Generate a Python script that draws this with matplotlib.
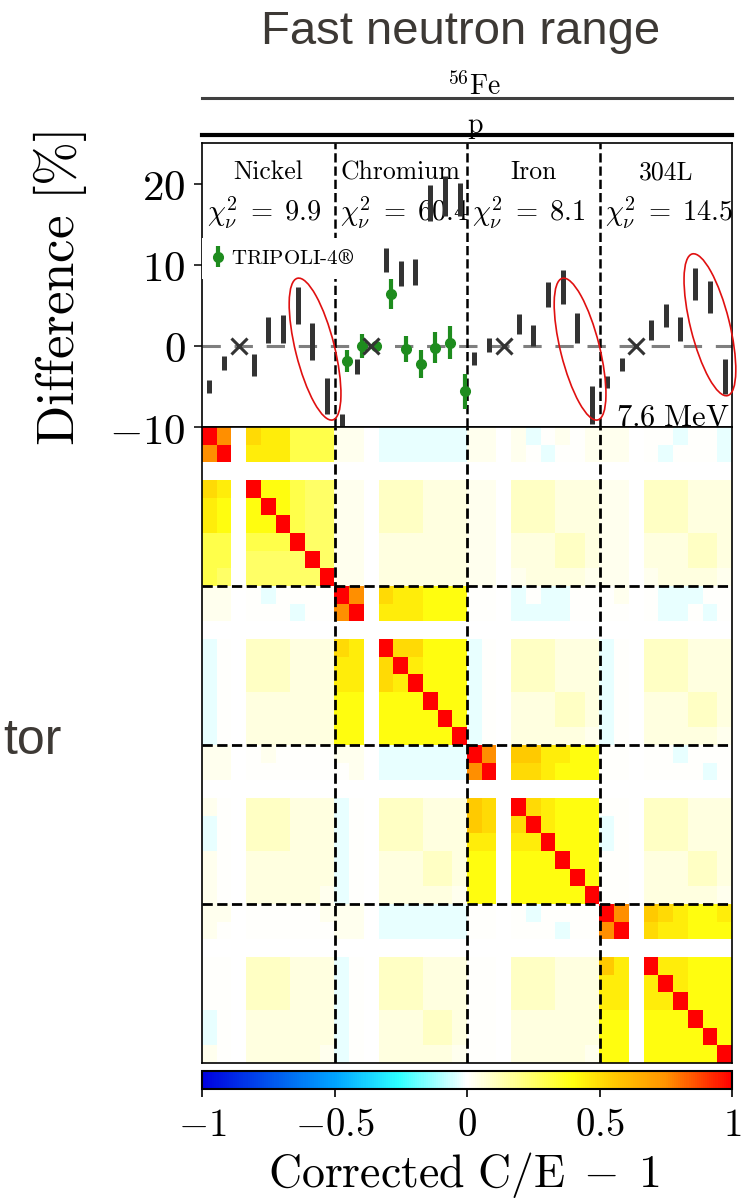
import numpy as np
import matplotlib
matplotlib.use('Agg')
import matplotlib.pyplot as plt
from matplotlib.colors import LinearSegmentedColormap
from matplotlib.patches import Ellipse
from matplotlib.transforms import IdentityTransform
from matplotlib.lines import Line2D

plt.rcParams['mathtext.fontset'] = 'cm'
SERIF = ['cmr10', 'DejaVu Serif']

# ─── data ──────────────────────────────────────────────────────────
materials = ['Nickel', 'Chromium', 'Iron', '304L']
chi2_values = ['9.9', '60.4', '8.1', '14.5']
ref_index = 2          # position of the normalisation point (the cross)

# difference bands [%] per block, 9 positions each (None = reference)
nickel_lo = [-5.8, -3.0, None, -3.7, 0.4, 0.4, 2.7, -1.7, -8.4]
nickel_hi = [-4.2, -1.2, None, -1.0, 3.6, 3.8, 7.3, 2.8, -4.0]
chromium_lo = [-11.0, -3.5, None, 9.1, 7.4, 7.5, 15.4, 16.0, 16.0]
chromium_hi = [-8.4, -1.6, None, 12.1, 10.5, 10.7, 19.8, 20.9, 20.1]
iron_lo = [-2.3, -0.7, None, 1.4, 0.0, 4.8, 5.2, 0.3, -9.6]
iron_hi = [-0.7, 1.0, None, 3.9, 2.6, 7.9, 9.4, 4.1, -4.9]
ss304_lo = [-5.2, -3.1, None, 0.7, 2.3, 0.6, 5.7, 4.0, -5.9]
ss304_hi = [-3.7, -1.5, None, 3.2, 5.1, 3.5, 9.6, 8.0, -1.6]
bands_lo = [nickel_lo, chromium_lo, iron_lo, ss304_lo]
bands_hi = [nickel_hi, chromium_hi, iron_hi, ss304_hi]

# TRIPOLI-4 points (chromium block)
tripoli_block = 1
tripoli_val = [-1.85, 0.0, 0.0, 6.4, -0.4, -2.2, -0.25, 0.4, -5.6]
tripoli_err = [1.35, 1.5, 0.3, 1.8, 1.65, 1.7, 1.9, 2.05, 2.15]

# highlighted groups (centre in data units)
ellipse_x = [7.68, 25.68, 34.5]
ellipse_y = [-0.4, -0.4, 2.6]

# correlation matrix, one character per cell
corr_rows = [
    "XF.A99666 zz.aaaaaa zz.za0z0z zz.00a00a",
    "FX.999666 zz.aaaaaa zz.z0a00z zz.0a000a",
    "......... ......... ......... .........",
    "A9.X88655 zz.222111 zz.222111 zz.222111",
    "98.8X8655 zz.222111 zz.222111 zz.222111",
    "98.88X655 zz.222111 zz.222111 zz.222111",
    "66.666X55 zz.111111 zz.111221 zz.111221",
    "66.5555X5 zz.111111 zz.111221 zz.111221",
    "65.55555X zz.111111 zz.z1111z zz.z1111z",
    "zz.0a0000 XF.A99888 00.a0aa00 0z.0aaa00",
    "zz.000a00 FX.999888 00.aaaa00 00.0aa0a0",
    "......... ......... ......... .........",
    "a0.222111 A9.XAA888 a0.222111 a0.222111",
    "a0.222111 99.AX9888 a0.222111 a0.222111",
    "a0.222111 99.A9X888 a0.222111 a0.222111",
    "a0.111111 88.888X88 a0.111221 a0.111221",
    "a0.111111 88.8888X8 a0.111221 a0.111221",
    "a0.111111 88.88888X a0.11111z a0.11111z",
    "zz.0z0000 zz.aaaaaa XF.BB9988 00.00a000",
    "zz.000000 0z.aaaaaa FX.AA9888 00.0000a0",
    "......... ......... ......... .........",
    "z0.222111 a0.222111 BA.XA9888 00.222111",
    "a0.222111 a0.222111 BA.AX9888 a0.222111",
    "a0.222111 a0.222111 99.99X888 a0.222111",
    "z0.111111 a0.111221 88.888X88 00.111221",
    "z0.111111 a0.111221 88.8888X8 00.111221",
    "z0.11111z a0.11111z 88.88888X 00.11111z",
    "zz.00000z zz.aaaaaa 00.0a0000 XF.BA9889",
    "z0.000000 zz.aaaaaa 00.000a00 FX.A99888",
    "......... ......... ......... .........",
    "00.222111 a0.222111 00.222111 B9.X99888",
    "00.222111 a0.222111 00.222111 99.9X9888",
    "00.222111 a0.222111 00.222111 99.99X888",
    "a0.111111 a0.111221 00.111111 88.888X88",
    "a0.111111 a0.111221 00.111111 88.8888X8",
    "z0.11111z a0.11111z 00.11111z 88.88888X",
]
levels = {'.': np.nan, 'X': 1.0, 'z': 0.025, 'a': -0.025, 'b': -0.05}
for d in '0123456789':
    levels[d] = 0.05 * int(d)
for i, ch in enumerate('ABCDEFGHIJ'):
    levels[ch] = 0.5 + 0.05 * i
corr = np.array([[levels[ch] for ch in row.replace(' ', '')] for row in corr_rows])

n_block = 9
n_cells = len(materials) * n_block

cmap = LinearSegmentedColormap.from_list('ce', [
    (0.0, '#0000dd'), (0.25, '#00a5ff'), (0.37, '#2effff'), (0.5, '#ffffff'),
    (0.7, '#ffff10'), (0.78, '#ffc800'), (0.875, '#ff9400'), (1.0, '#ff0000')])
cmap.set_bad('white')

W, H = 741, 1200
fig = plt.figure(figsize=(W / 100, H / 100), dpi=100)


def fx(px):
    return px / W


def fy(py):
    return (H - py) / H


ax = fig.add_axes([fx(202), fy(427), fx(732) - fx(202), fy(143) - fy(427)])
axh = fig.add_axes([fx(202), fy(1063), fx(732) - fx(202), fy(427) - fy(1063)])
cax = fig.add_axes([fx(202), fy(1089), fx(732) - fx(202), fy(1071) - fy(1089)])

# ─── top panel: differences ──────────────────────────────────────
ax.set_xlim(0, n_cells)
ax.set_ylim(-10, 25)
ax.axhline(0, color='#7f7f7f', lw=2.2, dashes=(6, 4.5), zorder=1)

for k, name in enumerate(materials):
    lo, hi = bands_lo[k], bands_hi[k]
    xs = [k * n_block + i + 0.5 for i in range(n_block) if lo[i] is not None]
    ax.vlines(xs, [v for v in lo if v is not None], [v for v in hi if v is not None],
              color='#333333', lw=3.6, zorder=3)
    ax.plot(k * n_block + ref_index + 0.5, 0, marker='x', ms=12, mew=2.2,
            color='#333333', zorder=4)
    ax.text(k * n_block + 4.5, 21.4, name, fontsize=18.5, family=SERIF,
            ha='center', va='center', zorder=2)
    ax.text(k * n_block + 0.35, 16.4, r'$\chi^2_\nu\;=\;%s$' % chi2_values[k],
            fontsize=20.5, ha='left', va='center', zorder=2)
    if k > 0:
        ax.axvline(k * n_block, color='black', lw=1.8, ls='--', zorder=2)

tx = [tripoli_block * n_block + i + 0.85 for i in range(n_block)]
ax.errorbar(tx, tripoli_val, yerr=tripoli_err, fmt='o', color='#1e8c1e', ms=7,
            elinewidth=3, capsize=0, zorder=3.5, label=r'TRIPOLI-4$\circledR$')

ax.text(35.85, -9.8, r'$7.6\ \mathrm{MeV}$', fontsize=22, ha='right', va='baseline')

ax.set_xticks([])
ax.set_yticks([-10, 0, 10, 20])
ax.set_yticklabels([r'$-10$', r'$0$', r'$10$', r'$20$'])
ax.tick_params(axis='y', direction='out', length=6, width=1.1, labelsize=31, pad=6)
for s in ax.spines.values():
    s.set_linewidth(1.2)

ax.legend(loc='upper left', bbox_to_anchor=(0.0, 0.667), frameon=True, fancybox=False,
          framealpha=1, edgecolor='none', facecolor='white', handlelength=0.4,
          handletextpad=0.45, borderpad=0.55, borderaxespad=0,
          prop={'family': SERIF, 'size': 15})

# ─── correlation matrix ───────────────────────────────────────────
im = axh.imshow(corr, cmap=cmap, vmin=-1, vmax=1, aspect='auto',
                extent=(0, n_cells, n_cells, 0), interpolation='nearest')
for b in range(1, len(materials)):
    axh.axvline(b * n_block, color='black', lw=2, ls='--')
    axh.axhline(b * n_block, color='black', lw=2, ls='--')
axh.set_xticks([])
axh.set_yticks([])
for s in axh.spines.values():
    s.set_linewidth(1.2)

cb = fig.colorbar(im, cax=cax, orientation='horizontal')
cb.set_ticks([-1, -0.5, 0, 0.5, 1])
cb.set_ticklabels([r'$-1$', r'$-0.5$', r'$0$', r'$0.5$', r'$1$'])
cax.tick_params(labelsize=28, length=6, width=1.2, direction='out', pad=6)
cb.outline.set_linewidth(1.5)

fig.text(fx(464), fy(1175), r'$\mathrm{Corrected\ C/E}\;-\;1$', fontsize=33,
         ha='center', va='center')
fig.text(fx(60), fy(288), r'$\mathrm{Difference\ [\%]}$', fontsize=38,
         rotation=90, ha='center', va='center')

# ─── grouping bars above the panel ───────────────────────────────
fig.add_artist(Line2D([fx(202), fx(732)], [fy(98), fy(98)], color='#404040', lw=2.2))
fig.add_artist(Line2D([fx(202), fx(732)], [fy(135), fy(135)], color='black', lw=3))
fig.text(fx(474), fy(95), r'$^{56}\mathrm{Fe}$', fontsize=20, ha='center', va='baseline')
fig.text(fx(475), fy(133), r'$\mathrm{p}$', fontsize=20, ha='center', va='baseline')

# slide texts
fig.text(fx(461), fy(44), 'Fast neutron range', fontsize=34, family='Liberation Sans',
         color='#3d3935', ha='center', va='baseline')
fig.text(fx(62), fy(754), 'tor', fontsize=36, family='Liberation Sans',
         color='#3d3935', ha='right', va='baseline')

# red ellipses, drawn in pixels
for ex, ey in zip(ellipse_x, ellipse_y):
    cx, cy = ax.transData.transform((ex, ey))
    fig.add_artist(Ellipse((cx, cy), 39, 146, angle=14, transform=IdentityTransform(),
                           fill=False, ec='#e01010', lw=1.2, zorder=6))

fig.savefig('out.png', dpi=100)
